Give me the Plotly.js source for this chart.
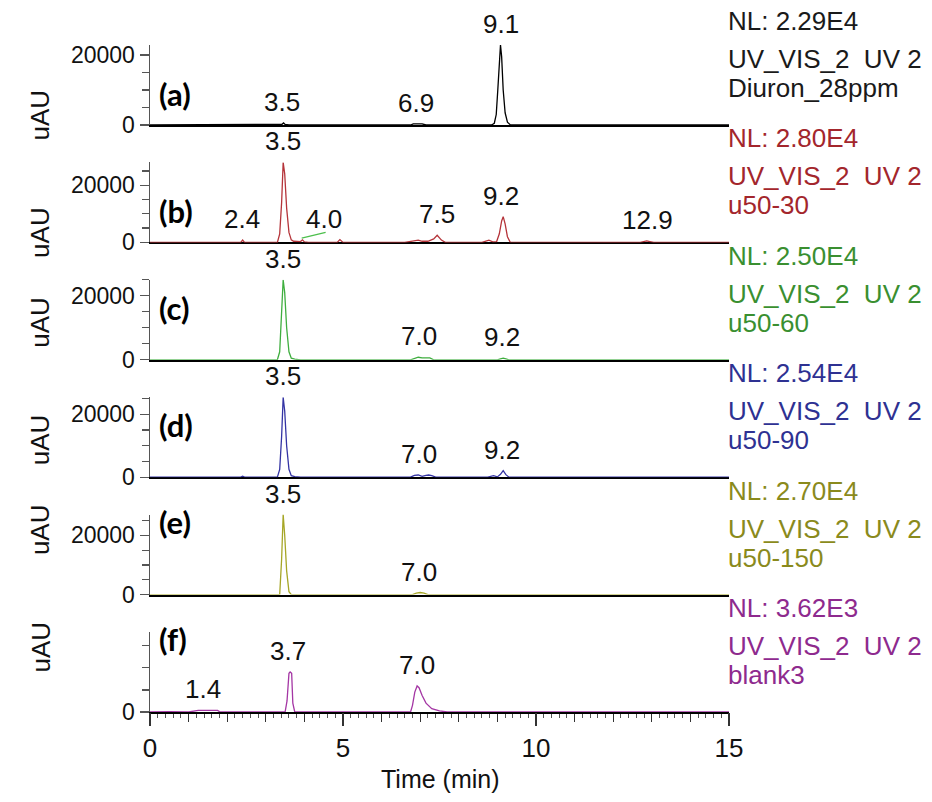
<!DOCTYPE html>
<html>
<head>
<meta charset="utf-8">
<script src="https://cdn.plot.ly/plotly-3.0.1.min.js"></script>
<style>html,body{margin:0;padding:0;background:#fff;}#chart{width:932px;height:802px;}</style>
</head>
<body>
<div id="chart"></div>
<script>
// ---------- data ----------
const panelNames = ['(a)', '(b)', '(c)', '(d)', '(e)', '(f)'];
const normLevels = [22900, 28000, 25000, 25400, 27000, 3620];
const nlTexts = ['NL: 2.29E4', 'NL: 2.80E4', 'NL: 2.50E4', 'NL: 2.54E4', 'NL: 2.70E4', 'NL: 3.62E3'];
const detectorText = 'UV_VIS_2  UV 2';
const sampleNames = ['Diuron_28ppm', 'u50-30', 'u50-60', 'u50-90', 'u50-150', 'blank3'];

const tA = [0, 3.3, 3.42, 3.46, 3.5, 3.6, 6.75, 6.82, 6.9, 7.05, 7.15, 8.85, 8.92, 8.97, 9.01, 9.05, 9.08, 9.11, 9.15, 9.2, 9.26, 9.33, 9.4, 15];
const yA = [0, 0, 200, 600, 150, 0, 0, 300, 320, 300, 0, 0, 500, 3000, 10000, 19000, 22900, 19500, 10000, 3500, 800, 100, 0, 0];

const tB = [0, 2.35, 2.4, 2.45, 3.3, 3.36, 3.41, 3.45, 3.49, 3.54, 3.6, 3.66, 3.72, 3.9, 3.95, 4.0, 4.1, 4.85, 4.92, 5.0, 6.6, 6.75, 6.85, 6.95, 7.05, 7.2, 7.35, 7.44, 7.55, 7.65, 8.6, 8.7, 8.78, 8.88, 8.98, 9.05, 9.11, 9.15, 9.2, 9.26, 9.33, 12.7, 12.8, 12.87, 12.95, 13.05, 15];
const yB = [0, 0, 800, 0, 0, 3000, 14000, 28000, 24000, 12000, 3500, 900, 400, 300, 900, 200, 0, 0, 1000, 0, 0, 300, 700, 800, 400, 400, 1200, 2500, 800, 0, 0, 500, 800, 200, 300, 3000, 7500, 9000, 6500, 2000, 100, 0, 300, 500, 300, 0, 0];
const tB2 = [3.93, 4.55];          // stray green segment in panel (b)
const yB2 = [1500, 3500];

const tC = [0, 3.3, 3.36, 3.41, 3.45, 3.49, 3.54, 3.6, 3.66, 3.75, 3.9, 6.75, 6.85, 6.95, 7.05, 7.15, 7.25, 7.35, 9.0, 9.08, 9.15, 9.22, 9.3, 15];
const yC = [0, 0, 2500, 13000, 25000, 21000, 10000, 2500, 500, 200, 0, 0, 500, 800, 600, 500, 600, 0, 0, 300, 500, 300, 0, 0];

const tD = [0, 2.35, 2.4, 2.45, 3.3, 3.36, 3.41, 3.45, 3.49, 3.54, 3.6, 3.66, 3.75, 3.9, 6.75, 6.85, 6.95, 7.05, 7.15, 7.22, 7.3, 7.4, 8.75, 8.83, 8.9, 9.0, 9.08, 9.15, 9.22, 9.3, 15];
const yD = [0, 0, 300, 0, 0, 2500, 13000, 25400, 21000, 10000, 2500, 500, 200, 0, 0, 600, 700, 300, 600, 700, 500, 0, 0, 400, 500, 100, 900, 2100, 800, 0, 0];

const tE = [0, 3.36, 3.41, 3.45, 3.49, 3.54, 3.6, 3.66, 6.8, 6.9, 7.0, 7.1, 7.2, 15];
const yE = [0, 0, 12000, 27000, 20000, 8000, 1000, 0, 0, 500, 700, 500, 0, 0];

const tF = [0, 0.5, 1.0, 1.2, 1.25, 1.5, 1.75, 1.8, 2.5, 3.0, 3.5, 3.55, 3.6, 3.63, 3.67, 3.7, 3.75, 4.5, 6.0, 6.75, 6.8, 6.86, 6.92, 6.97, 7.05, 7.15, 7.3, 7.5, 7.7, 9, 12, 15];
const yF = [0, 20, 0, 30, 70, 70, 70, 20, 10, 20, 0, 500, 1750, 1810, 1750, 400, 0, 10, 20, 0, 300, 900, 1180, 1100, 750, 400, 150, 50, 0, 10, 10, 0];

// peak labels: text and the time at which each label is centred
const labA = ['3.5', '6.9', '9.1'];            const labXA = [3.42, 6.9, 9.09];
const labB = ['2.4', '3.5', '4.0', '7.5', '9.2', '12.9']; const labXB = [2.38, 3.45, 4.5, 7.44, 9.09, 12.88];
const labC = ['3.5', '7.0', '9.2'];            const labXC = [3.45, 6.97, 9.12];
const labD = ['3.5', '7.0', '9.2'];            const labXD = [3.45, 6.97, 9.12];
const labE = ['3.5', '7.0'];                   const labXE = [3.45, 6.97];
const labF = ['1.4', '3.7', '7.0'];            const labXF = [1.37, 3.57, 6.91];

const xTicks = [0, 5, 10, 15];

// ---------- styling ----------
const lineColors = ['#000000', '#b5343a', '#3fae3f', '#3434a4', '#a6a626', '#a436a4'];
const textColors = ['#1a1a1a', '#a3262c', '#3a8f30', '#2e3192', '#8a8a1c', '#8e2a8e'];
const FONT = 'Liberation Sans, Arial, sans-serif';

const L = 150, R = 203, T = 45, B = 90;
const PW = 932 - L - R, PH = 802 - T - B;
const panelH = 80, step = 117.4;
const px = v => (v - L) / PW;
const py = v => (802 - B - v) / PH;

const series = [[tA, yA], [tB, yB], [tC, yC], [tD, yD], [tE, yE], [tF, yF]];
const labels = [[labA, labXA], [labB, labXB], [labC, labXC], [labD, labXD], [labE, labXE], [labF, labXF]];

function apexNear(t, y, c, w) {
  let best = -Infinity;
  for (let i = 0; i < t.length; i++) if (Math.abs(t[i] - c) <= w && y[i] > best) best = y[i];
  return best;
}

const traces = [];
const layout = {
  width: 932, height: 802,
  margin: {l: L, r: R, t: T, b: B},
  paper_bgcolor: '#fff', plot_bgcolor: '#fff',
  showlegend: false,
  font: {family: FONT, color: '#111'},
  annotations: []
};

for (let i = 0; i < 6; i++) {
  const n = i + 1;
  const xa = n === 1 ? 'x' : 'x' + n, ya = n === 1 ? 'y' : 'y' + n;
  const xk = n === 1 ? 'xaxis' : 'xaxis' + n, yk = n === 1 ? 'yaxis' : 'yaxis' + n;
  const bottom = (5 - i) * step / PH;
  const top = bottom + panelH / PH;
  const [t, y] = series[i];
  traces.push({x: t, y: y, xaxis: xa, yaxis: ya, type: 'scatter', mode: 'lines',
    line: {color: lineColors[i], width: 1.3}, hoverinfo: 'skip'});

  const isLast = i === 5;
  layout[xk] = {
    domain: [0, 1], anchor: ya, range: [0, 15], showgrid: false, zeroline: false,
    showline: true, linecolor: '#000', linewidth: isLast ? 1.5 : 2, layer: 'below traces',
    ticks: isLast ? 'outside' : '', showticklabels: false,
    tickmode: 'linear', tick0: 0, dtick: 1, ticklen: 8, tickwidth: 1.3, tickcolor: '#333',
    minor: isLast ? {ticks: 'outside', dtick: 0.2, tick0: 0, ticklen: 4, tickwidth: 1, tickcolor: '#555'} : undefined
  };
  if (!isLast) layout[xk].matches = 'x6';
  const majors = isLast ? [0] : [0, 20000];
  layout[yk] = {
    domain: [bottom, top], anchor: xa, range: [0, normLevels[i]], showgrid: false, zeroline: false,
    showline: true, linecolor: '#555', linewidth: 1.5, layer: 'below traces',
    ticks: 'outside', ticklen: 9, tickwidth: 1.3, tickcolor: '#555',
    tickmode: 'array', tickvals: majors, ticktext: majors.map(String),
    tickfont: {family: FONT, size: 23, color: '#111'},
    minor: {ticks: 'outside', tickmode: 'linear', tick0: 0, dtick: isLast ? 1000 : 5000, ticklen: 7, tickwidth: 1.3, tickcolor: '#555'}
  };

  const baseY = 802 - B - (5 - i) * step;   // pixel y of the baseline
  const topY = baseY - panelH;
  // uAU
  layout.annotations.push({xref: 'paper', yref: 'paper', x: px(23), y: py(baseY - panelH / 2 + 3),
    text: 'uAU', textangle: -90, showarrow: false, font: {family: FONT, size: 26, color: '#111'}});
  // panel letter
  layout.annotations.push({xref: 'paper', yref: 'paper', x: px(157), xanchor: 'left', y: py(topY + 28),
    text: '<b>' + panelNames[i] + '</b>', showarrow: false, font: {family: 'Lato, Open Sans, sans-serif', size: 31, color: '#000'}});
  // right-side labels
  const rt = [nlTexts[i], detectorText, sampleNames[i]];
  const ry = [baseY - 104, baseY - 66, baseY - 37];
  for (let k = 0; k < 3; k++) {
    layout.annotations.push({xref: 'paper', yref: 'paper', x: px(726), xanchor: 'left', y: py(ry[k]), yanchor: 'middle',
      text: rt[k].replace(/ /g, '&nbsp;'), showarrow: false, font: {family: FONT, size: 26, color: textColors[i]}});
  }
  // peak labels
  const [lt, lx] = labels[i];
  for (let k = 0; k < lt.length; k++) {
    const apex = apexNear(t, y, parseFloat(lt[k]), 0.3);
    layout.annotations.push({xref: xa, yref: ya, x: lx[k], y: apex, yanchor: 'bottom', yshift: 4,
      text: lt[k], showarrow: false, font: {family: FONT, size: 26, color: '#111'}});
  }
}

// stray segment in panel (b)
traces.push({x: tB2, y: yB2, xaxis: 'x2', yaxis: 'y2', type: 'scatter', mode: 'lines',
  line: {color: '#4cbf4c', width: 1.3}, hoverinfo: 'skip'});

// labelled major x ticks on the bottom panel
layout.xaxis7 = {overlaying: 'x6', anchor: 'y6', range: [0, 15], showgrid: false, zeroline: false, showline: false,
  ticks: 'outside', ticklen: 13, tickwidth: 1.5, tickcolor: '#333', tickmode: 'array', tickvals: xTicks,
  ticktext: xTicks.map(String), tickfont: {family: FONT, size: 26, color: '#111'}};
traces.push({x: [0, 15], y: [0, 0], xaxis: 'x7', yaxis: 'y6', type: 'scatter', mode: 'lines',
  line: {color: 'rgba(0,0,0,0)', width: 0}, hoverinfo: 'skip'});

layout.annotations.push({xref: 'paper', yref: 'paper', x: px(440), y: py(779), yanchor: 'middle',
  text: 'Time (min)', showarrow: false, font: {family: FONT, size: 25, color: '#111'}});

Plotly.newPlot('chart', traces, layout, {staticPlot: true, displayModeBar: false});
</script>
</body>
</html>
